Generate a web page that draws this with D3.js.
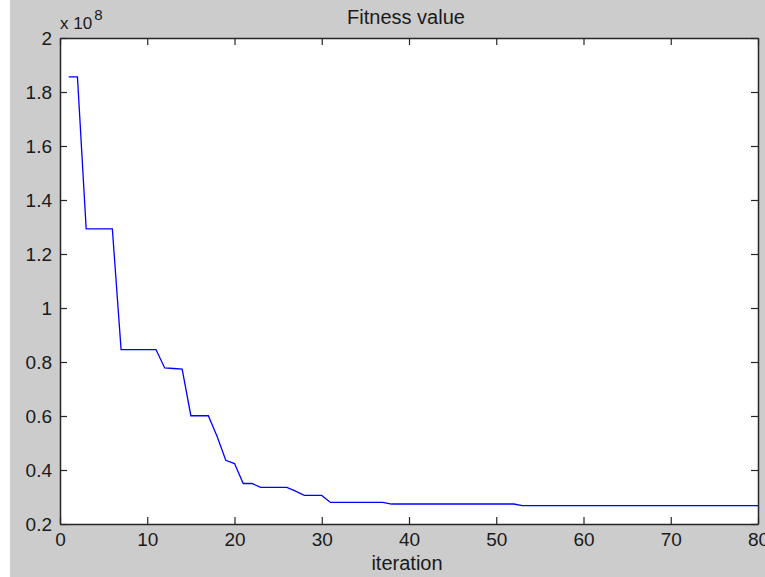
<!DOCTYPE html>
<html>
<head>
<meta charset="utf-8">
<script src="https://cdn.jsdelivr.net/npm/d3@7"></script>
<style>
  html, body { margin: 0; padding: 0; background: #ffffff; }
  svg { display: block; }
  text { font-family: "Liberation Sans", Arial, sans-serif; fill: #1a1a1a; }
</style>
</head>
<body>
<svg id="chart" width="765" height="577"></svg>
<script>
// ---- data (fitness values in units of 1e8) ----
const iterations = d3.range(1, 81);
const fitness = [
  1.856, 1.856, 1.293, 1.293, 1.293, 1.293, 0.846, 0.846, 0.846, 0.846,
  0.846, 0.778, 0.776, 0.774, 0.601, 0.601, 0.601, 0.525, 0.436, 0.424,
  0.350, 0.350, 0.336, 0.336, 0.336, 0.336, 0.322, 0.306, 0.306, 0.306,
  0.280, 0.280, 0.280, 0.280, 0.280, 0.280, 0.280, 0.274, 0.274, 0.274,
  0.274, 0.274, 0.274, 0.274, 0.274, 0.274, 0.274, 0.274, 0.274, 0.274,
  0.274, 0.274, 0.268, 0.268, 0.268, 0.268, 0.268, 0.268, 0.268, 0.268,
  0.268, 0.268, 0.268, 0.268, 0.268, 0.268, 0.268, 0.268, 0.268, 0.268,
  0.268, 0.268, 0.268, 0.268, 0.268, 0.268, 0.268, 0.268, 0.268, 0.268
];
const xTicks = [0, 10, 20, 30, 40, 50, 60, 70, 80];
const yTicks = [0.2, 0.4, 0.6, 0.8, 1, 1.2, 1.4, 1.6, 1.8, 2];
const titleText = "Fitness value";
const xLabelText = "iteration";
const exponentBase = "x 10";
const exponentPower = "8";

(function () {
const W = 765, H = 577;
const pL = 60, pR = 758, pT = 38, pB = 524;
const svg = d3.select("#chart");

svg.append("rect").attr("x", 10).attr("y", 0).attr("width", W - 10).attr("height", H)
  .attr("fill", "#cccccc");

const x = d3.scaleLinear().domain([0, 80]).range([pL, pR]);
const y = d3.scaleLinear().domain([0.2, 2]).range([pB, pT]);

svg.append("rect").attr("x", pL).attr("y", pT)
  .attr("width", pR - pL).attr("height", pB - pT).attr("fill", "#ffffff");

const data = iterations.map((it, i) => ({ it, v: fitness[i] }));
svg.append("path").datum(data)
  .attr("fill", "none").attr("stroke", "#0000ff").attr("stroke-width", 1.3)
  .attr("d", d3.line().x(d => x(d.it)).y(d => y(d.v)));

const tickLen = 7;
const axisColor = "#262626";
const fmt = d => (d === 1 || d === 2) ? String(d) : d.toFixed(1);

const gB = svg.append("g").attr("transform", `translate(0,${pB})`)
  .call(d3.axisBottom(x).tickValues(xTicks).tickSizeInner(-tickLen).tickSizeOuter(0)
    .tickPadding(9).tickFormat(d3.format("d")));
const gT = svg.append("g").attr("transform", `translate(0,${pT})`)
  .call(d3.axisTop(x).tickValues(xTicks).tickSizeInner(-tickLen).tickSizeOuter(0)
    .tickFormat(""));
const gL = svg.append("g").attr("transform", `translate(${pL},0)`)
  .call(d3.axisLeft(y).tickValues(yTicks).tickSizeInner(-tickLen).tickSizeOuter(0)
    .tickPadding(8).tickFormat(fmt));
const gR = svg.append("g").attr("transform", `translate(${pR},0)`)
  .call(d3.axisRight(y).tickValues(yTicks).tickSizeInner(-tickLen).tickSizeOuter(0)
    .tickFormat(""));

[gB, gT, gL, gR].forEach(g => {
  g.select(".domain").attr("stroke", axisColor).attr("stroke-width", 1.5);
  g.selectAll(".tick line").attr("stroke", axisColor).attr("stroke-width", 1.2);
  g.selectAll(".tick text").attr("font-size", 19).attr("fill", "#1a1a1a")
    .attr("font-family", "Liberation Sans, Arial, sans-serif");
});
gB.selectAll(".tick text").attr("dy", "0.71em");
gL.selectAll(".tick text").attr("dy", "0.35em");

svg.append("text").attr("x", (pL + pR) / 2 - 3).attr("y", 24)
  .attr("text-anchor", "middle").attr("font-size", 20).text(titleText);

svg.append("text").attr("x", (pL + pR) / 2 - 2).attr("y", 570)
  .attr("text-anchor", "middle").attr("font-size", 20).text(xLabelText);

const ex = svg.append("text").attr("x", pL).attr("y", 29).attr("font-size", 17);
ex.append("tspan").text(exponentBase);
ex.append("tspan").attr("dx", 2).attr("dy", -9).attr("font-size", 15).text(exponentPower);
})();
</script>
</body>
</html>
